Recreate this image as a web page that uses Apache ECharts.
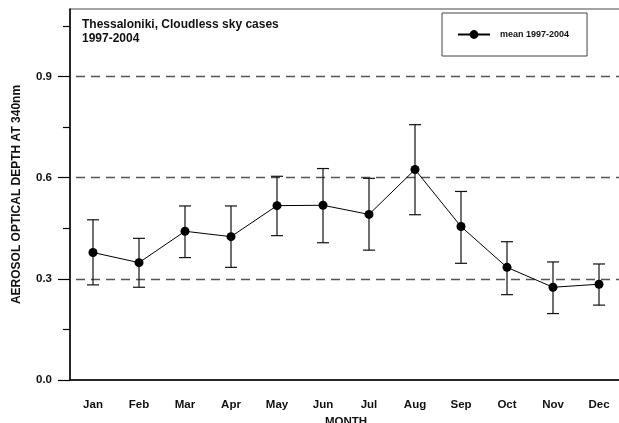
<!DOCTYPE html>
<html>
<head>
<meta charset="utf-8">
<script src="https://cdn.jsdelivr.net/npm/echarts@6/dist/echarts.min.js"></script>
<style>html,body{margin:0;padding:0;background:#fff}#c{width:619px;height:423px}</style>
</head>
<body>
<div id="c"></div>
<script>
const months = ['Jan','Feb','Mar','Apr','May','Jun','Jul','Aug','Sep','Oct','Nov','Dec'];
const meanVals  = [0.378, 0.348, 0.441, 0.425, 0.517, 0.518, 0.491, 0.624, 0.455, 0.334, 0.275, 0.284];
const upperVals = [0.475, 0.420, 0.516, 0.516, 0.604, 0.627, 0.598, 0.757, 0.559, 0.410, 0.350, 0.344];
const lowerVals = [0.282, 0.275, 0.363, 0.334, 0.428, 0.407, 0.385, 0.490, 0.346, 0.253, 0.197, 0.222];
const yLabelValues = [0, 0.3, 0.6, 0.9];

const FONT = '"Liberation Sans", Arial, sans-serif';
const chart = echarts.init(document.getElementById('c'), null, {renderer: 'canvas'});

chart.setOption({
  animation: false,
  backgroundColor: '#fff',
  textStyle: {fontFamily: FONT},
  title: {
    text: 'Thessaloniki, Cloudless sky cases\n1997-2004',
    left: 82, top: 18, padding: 0,
    textStyle: {fontFamily: FONT, fontSize: 12, fontWeight: 'bold', color: '#111', lineHeight: 13.5}
  },
  legend: {
    left: 442, top: 13,
    padding: [17, 18, 17, 15],
    borderColor: '#444', borderWidth: 1,
    itemWidth: 32, itemHeight: 11,
    itemGap: 0,
    textStyle: {fontFamily: FONT, fontSize: 9, fontWeight: 'bold', color: '#111', padding: [0, 0, 0, 5]},
    data: ['mean 1997-2004']
  },
  grid: {left: 70, right: -3, top: 9, bottom: 43, outerBoundsMode: 'none', containLabel: false, show: true, borderColor: '#444', borderWidth: 1, backgroundColor: 'transparent'},
  xAxis: {
    type: 'category',
    data: months,
    boundaryGap: true,
    name: 'MONTH', nameLocation: 'middle', nameGap: 34,
    nameTextStyle: {fontFamily: FONT, fontSize: 11.5, fontWeight: 'bold', color: '#111'},
    axisLine: {lineStyle: {color: '#000', width: 1.5}},
    axisTick: {alignWithLabel: true, length: 13, lineStyle: {color: '#000', width: 1.2}},
    axisLabel: {margin: 19, fontFamily: FONT, fontSize: 11.5, fontWeight: 'bold', color: '#111'},
    splitLine: {show: false}
  },
  yAxis: {
    type: 'value',
    min: 0, max: 1.1, interval: 0.3,
    name: 'AEROSOL OPTICAL DEPTH AT 340nm', nameLocation: 'middle', nameGap: 47,
    nameTextStyle: {fontFamily: FONT, fontSize: 12, fontWeight: 'bold', color: '#111'},
    axisLine: {show: true, lineStyle: {color: '#000', width: 1.5}},
    axisTick: {show: true, length: 12, customValues: yLabelValues, lineStyle: {color: '#000', width: 1.2}},
    minorTick: {show: true, splitNumber: 2, length: 7, lineStyle: {color: '#000', width: 1.2}},
    axisLabel: {
      margin: 18, fontFamily: FONT, fontSize: 11.5, fontWeight: 'bold', color: '#111',
      customValues: yLabelValues,
      formatter: v => (yLabelValues.some(t => Math.abs(t - v) < 1e-6) ? v.toFixed(1) : '')
    },
    splitLine: {show: true, showMinLine: false, lineStyle: {color: '#555', width: 1.3, type: [9, 6], dashOffset: 9}}
  },
  series: [
    {
      type: 'custom',
      name: 'err',
      z: 2,
      data: months.map((m, i) => [i, upperVals[i], lowerVals[i]]),
      encode: {x: 0, y: [1, 2]},
      renderItem: function (params, api) {
        const hi = api.coord([api.value(0), api.value(1)]);
        const lo = api.coord([api.value(0), api.value(2)]);
        const w = 6;
        const st = {stroke: '#111', lineWidth: 1.2, fill: null};
        return {
          type: 'group',
          children: [
            {type: 'line', shape: {x1: hi[0], y1: hi[1], x2: lo[0], y2: lo[1]}, style: st},
            {type: 'line', shape: {x1: hi[0] - w, y1: hi[1], x2: hi[0] + w, y2: hi[1]}, style: st},
            {type: 'line', shape: {x1: lo[0] - w, y1: lo[1], x2: lo[0] + w, y2: lo[1]}, style: st}
          ]
        };
      }
    },
    {
      type: 'line',
      name: 'mean 1997-2004',
      z: 3,
      data: meanVals,
      symbol: 'circle',
      symbolSize: 9,
      lineStyle: {color: '#000', width: 1},
      itemStyle: {color: '#000', borderWidth: 0}
    }
  ]
});
</script>
</body>
</html>
